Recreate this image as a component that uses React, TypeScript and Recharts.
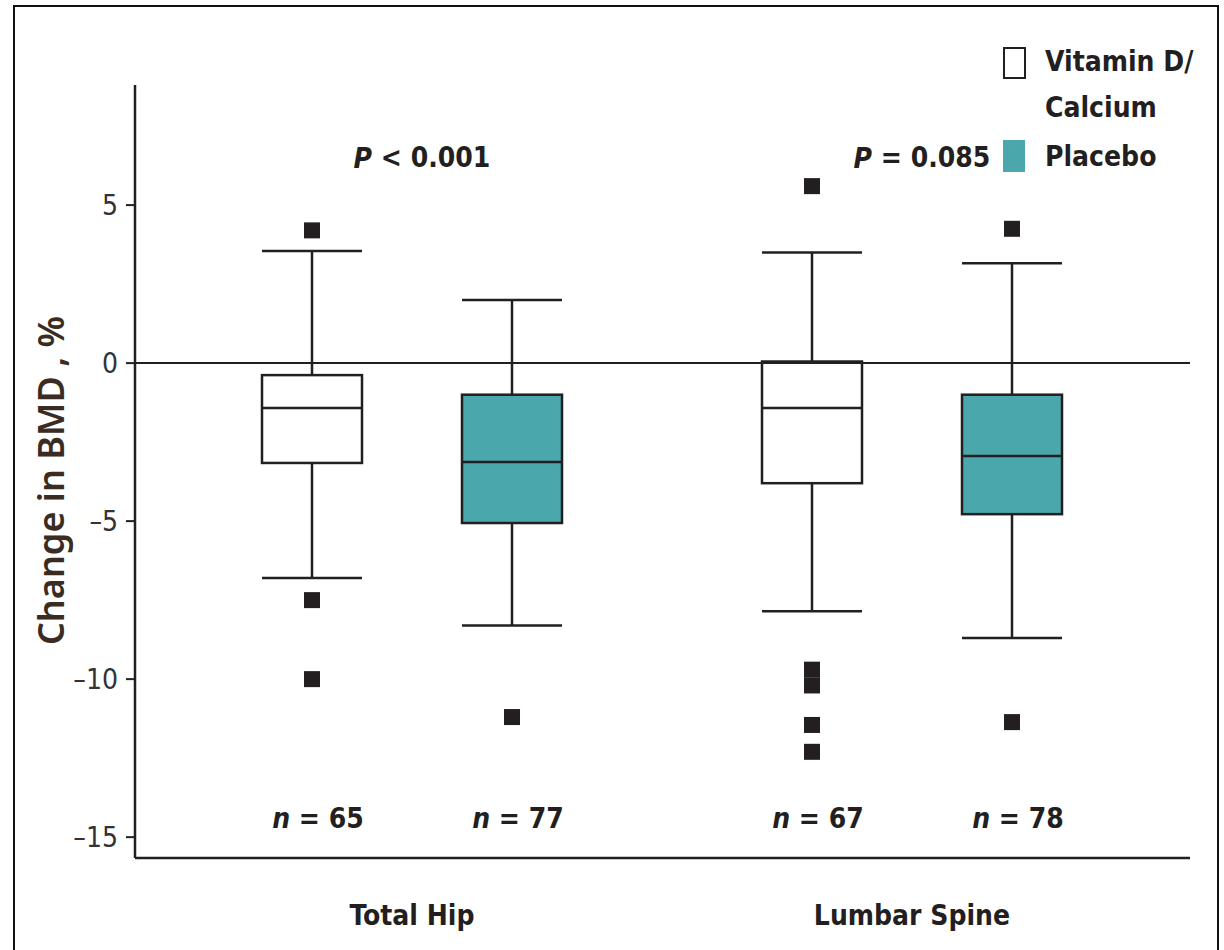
import React from "react";
import {
  BarChart,
  Bar,
  XAxis,
  YAxis,
  ReferenceLine,
  ReferenceDot,
  Legend,
} from "recharts";

const categories = ["Total Hip", "Lumbar Spine"];
const pValues = ["< 0.001", "= 0.085"];

const vitDLow = [-6.8, -7.85];
const vitDQ1 = [-3.16, -3.8];
const vitDMedian = [-1.42, -1.42];
const vitDQ3 = [-0.38, 0.05];
const vitDHigh = [3.55, 3.5];
const vitDOutliers = [
  [4.2, -7.5, -10.0],
  [5.6, -9.7, -10.2, -11.45, -12.3],
];
const vitDN = [65, 67];

const placeboLow = [-8.3, -8.7];
const placeboQ1 = [-5.06, -4.78];
const placeboMedian = [-3.13, -2.94];
const placeboQ3 = [-1.0, -1.0];
const placeboHigh = [2.0, 3.16];
const placeboOutliers = [[-11.2], [4.25, -11.36]];
const placeboN = [77, 78];

const yTicks = [-15, -10, -5, 0, 5];

const INK = "#231f20";
const TEAL = "#4aa8ac";
const FONT =
  "'Liberation Sans Narrow', 'DejaVu Sans Condensed', 'Arial Narrow', Roboto, sans-serif";
const N_LABEL_AT = -14.4;
const P_LABEL_AT = 6.5;

const stats = {
  vitD: { low: vitDLow, q1: vitDQ1, med: vitDMedian, q3: vitDQ3, high: vitDHigh, out: vitDOutliers, n: vitDN },
  placebo: { low: placeboLow, q1: placeboQ1, med: placeboMedian, q3: placeboQ3, high: placeboHigh, out: placeboOutliers, n: placeboN },
};

const data = categories.map((category, i) => ({
  category,
  vitD: [vitDQ1[i], vitDQ3[i]],
  placebo: [placeboQ1[i], placeboQ3[i]],
}));

const makeBox = (key: "vitD" | "placebo", fill: string) => (props: any) => {
  const { x, y, width, height, payload } = props;
  const s = stats[key];
  const i = categories.indexOf(payload.category);
  const q1 = s.q1[i];
  const q3 = s.q3[i];
  const top = Math.min(y, y + height);
  const h = Math.abs(height);
  // pixels per unit taken from the bar the y scale already placed
  const ppu = h / (q3 - q1);
  const py = (v: number) => top + (q3 - v) * ppu;
  const cx = x + width / 2;
  const sw = 2.5;
  return (
    <g>
      <line x1={cx} x2={cx} y1={py(s.high[i])} y2={top} stroke={INK} strokeWidth={sw} />
      <line x1={cx} x2={cx} y1={top + h} y2={py(s.low[i])} stroke={INK} strokeWidth={sw} />
      <line x1={x} x2={x + width} y1={py(s.high[i])} y2={py(s.high[i])} stroke={INK} strokeWidth={sw} />
      <line x1={x} x2={x + width} y1={py(s.low[i])} y2={py(s.low[i])} stroke={INK} strokeWidth={sw} />
      <rect x={x} y={top} width={width} height={h} fill={fill} stroke={INK} strokeWidth={sw} />
      <line x1={x} x2={x + width} y1={py(s.med[i])} y2={py(s.med[i])} stroke={INK} strokeWidth={sw} />
      {s.out[i].map((v, k) => (
        <rect key={k} x={cx - 8} y={py(v) - 8} width={16} height={16} fill={INK} />
      ))}
      <text
        x={cx + 6}
        y={py(N_LABEL_AT)}
        textAnchor="middle"
        dominantBaseline="central"
        fontFamily={FONT}
        fontSize={28}
        fontWeight={700}
        fill={INK}
      >
        <tspan fontStyle="italic">n</tspan> = {s.n[i]}
      </text>
    </g>
  );
};

const renderLegend = () => (
  <div style={{ position: "relative", width: 220, height: 150, fontFamily: FONT, fontSize: 28, fontWeight: 700, color: INK }}>
    <div style={{ position: "absolute", left: 3, top: 7, width: 19, height: 28, border: `2px solid ${INK}`, background: "#fff" }} />
    <div style={{ position: "absolute", left: 45, top: -1, lineHeight: "46px", whiteSpace: "nowrap" }}>
      Vitamin D/
      <br />
      Calcium
    </div>
    <div style={{ position: "absolute", left: 3, top: 100, width: 22, height: 32, background: TEAL }} />
    <div style={{ position: "absolute", left: 45, top: 94, lineHeight: "46px", whiteSpace: "nowrap" }}>Placebo</div>
  </div>
);

const pLabel = (text: string) => (props: any) => {
  const vb = props.viewBox || {};
  const cx = (vb.x || 0) + (vb.width || 0) / 2;
  const cy = (vb.y || 0) + (vb.height || 0) / 2;
  return (
    <text x={cx + 10} y={cy} textAnchor="middle" dominantBaseline="central" fontFamily={FONT} fontSize={28} fontWeight={700} fill={INK}>
      <tspan fontStyle="italic">P</tspan> {text}
    </text>
  );
};

const yTitle = (props: any) => {
  const vb = props.viewBox || {};
  const cx = 50;
  const cy = (vb.y || 0) + (vb.height || 0) / 2 + 9;
  return (
    <text
      x={cx}
      y={cy}
      transform={`rotate(-90, ${cx}, ${cy})`}
      textAnchor="middle"
      dominantBaseline="central"
      fontFamily="'Noto Sans', 'Open Sans', sans-serif"
      fontSize={36}
      fontWeight={600}
      fill="#3a2c22"
    >
      Change in BMD , %
    </text>
  );
};

export default function App() {
  return (
    <div style={{ position: "absolute", left: 0, top: 0, width: 1224, height: 950, overflow: "hidden", background: "#fff" }}>
      <div
        style={{
          position: "absolute",
          left: 13,
          top: 5,
          width: 1206,
          height: 1000,
          border: "2px solid #111",
          boxSizing: "border-box",
        }}
      />
      <BarChart
        width={1224}
        height={950}
        data={data}
        margin={{ top: 85, right: 34, left: 0, bottom: 0 }}
        barSize={100}
        barGap={100}
        style={{ position: "absolute", left: 0, top: 0 }}
      >
        <XAxis
          dataKey="category"
          height={92}
          padding={{ left: 27, right: 28 }}
          axisLine={{ stroke: INK, strokeWidth: 2.5 }}
          tickLine={false}
          tickSize={0}
          tickMargin={47}
          tick={{ fill: INK, fontSize: 28, fontWeight: 700, fontFamily: FONT }}
        />
        <YAxis
          width={135}
          domain={[-15.66, 8.8]}
          ticks={yTicks}
          allowDataOverflow
          axisLine={{ stroke: INK, strokeWidth: 2.5 }}
          tickLine={{ stroke: INK, strokeWidth: 2 }}
          tickSize={9}
          tickMargin={8}
          tickFormatter={(v: number) => (v < 0 ? `\u2013${Math.abs(v)}` : `${v}`)}
          tick={{ fill: "#333", fontSize: 28, fontFamily: FONT }}
          label={{ content: yTitle }}
        />
        <ReferenceLine y={0} stroke={INK} strokeWidth={2} />
        {categories.map((c, i) => (
          <ReferenceDot key={c} x={c} y={P_LABEL_AT} r={0} fill="none" stroke="none" label={pLabel(pValues[i])} />
        ))}
        <Legend
          layout="vertical"
          align="center"
          verticalAlign="middle"
          content={renderLegend}
          wrapperStyle={{ position: "absolute", left: 1000, top: 40, width: 220 }}
        />
        <Bar dataKey="vitD" name="Vitamin D/Calcium" fill="#fff" shape={makeBox("vitD", "#fff")} isAnimationActive={false} />
        <Bar dataKey="placebo" name="Placebo" fill={TEAL} shape={makeBox("placebo", TEAL)} isAnimationActive={false} />
      </BarChart>
    </div>
  );
}
